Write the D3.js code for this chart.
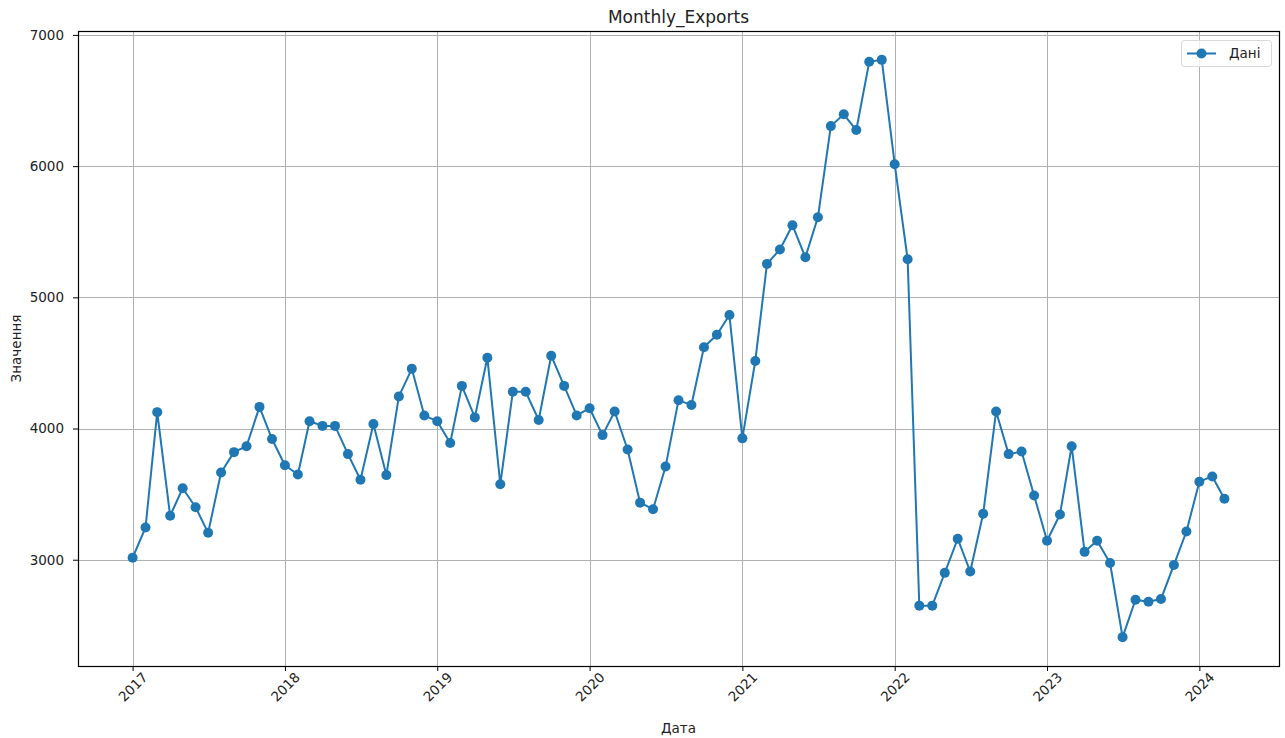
<!DOCTYPE html>
<html>
<head>
<meta charset="utf-8">
<script src="https://cdn.jsdelivr.net/npm/d3@7"></script>
<style>
  html, body { margin: 0; padding: 0; background: #fff; }
  svg { display: block; }
  svg text { font-family: "DejaVu Sans", sans-serif; }
</style>
</head>
<body>
<svg id="chart" width="1285" height="738"></svg>
<script>
// Monthly export values, January 2017 through March 2024
const startMonth = "2017-01";
const values = [
  3015, 3245, 4125, 3335, 3545, 3400, 3205, 3665, 3820, 3865, 4165, 3920,
  3720, 3650, 4055, 4020, 4020, 3805, 3610, 4035, 3645, 4245, 4455, 4100,
  4055, 3890, 4325, 4085, 4540, 3575, 4280, 4280, 4065, 4555, 4325, 4100,
  4155, 3950, 4130, 3840, 3435, 3385, 3710, 4215, 4180, 4620, 4715, 4865,
  3925, 4515, 5255, 5365, 5550, 5305, 5610, 6305, 6395, 6275, 6795, 6810,
  6015, 5290, 2650, 2650, 2900, 3160, 2910, 3350, 4130, 3805, 3825, 3490,
  3145, 3345, 3865, 3060, 3145, 2975, 2410, 2695, 2680, 2700, 2960, 3215,
  3595, 3635, 3465
];
const yTicks = [3000, 4000, 5000, 6000, 7000];
const xTickYears = [2017, 2018, 2019, 2020, 2021, 2022, 2023, 2024];
const title = "Monthly_Exports";
const xLabel = "Дата";
const yLabel = "Значення";
const seriesName = "Дані";

const parseMonth = d3.timeParse("%Y-%m");
const t0 = parseMonth(startMonth);
const data = values.map((v, i) => ({ date: d3.timeMonth.offset(t0, i), value: v }));

const color = "#1f77b4";
const font = "DejaVu Sans";
const tickFont = 13.5;
const plot = { left: 78, right: 1279, top: 31, bottom: 666 };

// 5% padding on both axes around the data extent
const [dMin, dMax] = d3.extent(data, d => d.date);
const dPad = (dMax - dMin) * 0.05;
const [vMin, vMax] = d3.extent(data, d => d.value);
const vPad = (vMax - vMin) * 0.05;

const x = d3.scaleTime()
  .domain([new Date(+dMin - dPad), new Date(+dMax + dPad)])
  .range([plot.left, plot.right]);
const y = d3.scaleLinear()
  .domain([vMin - vPad, vMax + vPad])
  .range([plot.bottom, plot.top]);

const svg = d3.select("#chart");
const xTickDates = xTickYears.map(yr => new Date(yr, 0, 1));

// grid
const grid = svg.append("g").attr("stroke", "#b0b0b0").attr("stroke-width", 1);
grid.selectAll("line.v").data(xTickDates).join("line")
  .attr("x1", d => Math.round(x(d)) + 0.5).attr("x2", d => Math.round(x(d)) + 0.5)
  .attr("y1", plot.top).attr("y2", plot.bottom);
grid.selectAll("line.h").data(yTicks).join("line")
  .attr("y1", d => Math.round(y(d)) + 0.5).attr("y2", d => Math.round(y(d)) + 0.5)
  .attr("x1", plot.left).attr("x2", plot.right);

// axes
const xAxis = svg.append("g")
  .attr("transform", `translate(0,${plot.bottom})`)
  .attr("font-family", font).attr("font-size", tickFont)
  .call(d3.axisBottom(x).tickValues(xTickDates).tickFormat(d3.timeFormat("%Y")).tickSize(5).tickPadding(4));
xAxis.select(".domain").remove();
xAxis.selectAll("line").attr("stroke", "#000").attr("stroke-width", 1);
// labels rotated 45° and centred under their ticks
xAxis.selectAll("text")
  .attr("font-family", font).attr("font-size", tickFont).attr("fill", "#222")
  .attr("text-anchor", "middle")
  .attr("dy", "0.35em")
  .attr("transform", "translate(0,21) rotate(-45)")
  .attr("x", 0).attr("y", 0);

const yAxis = svg.append("g")
  .attr("transform", `translate(${plot.left},0)`)
  .attr("font-family", font).attr("font-size", tickFont)
  .call(d3.axisLeft(y).tickValues(yTicks).tickFormat(d3.format("d")).tickSize(5).tickPadding(9));
yAxis.select(".domain").remove();
yAxis.selectAll("line").attr("stroke", "#000").attr("stroke-width", 1);
yAxis.selectAll("text").attr("font-family", font).attr("font-size", tickFont).attr("fill", "#222");

// frame
svg.append("rect")
  .attr("x", plot.left + 0.5).attr("y", plot.top + 0.5)
  .attr("width", plot.right - plot.left).attr("height", plot.bottom - plot.top)
  .attr("fill", "none").attr("stroke", "#000").attr("stroke-width", 1.2);

// series
const line = d3.line().x(d => x(d.date)).y(d => y(d.value));
svg.append("path").datum(data)
  .attr("d", line).attr("fill", "none")
  .attr("stroke", color).attr("stroke-width", 2).attr("stroke-linejoin", "round");
svg.append("g").selectAll("circle").data(data).join("circle")
  .attr("cx", d => x(d.date)).attr("cy", d => y(d.value))
  .attr("r", 5).attr("fill", color);

// title and axis labels
svg.append("text").attr("x", (plot.left + plot.right) / 2).attr("y", 23)
  .attr("text-anchor", "middle").attr("font-size", 17).attr("fill", "#222").text(title);
svg.append("text").attr("x", (plot.left + plot.right) / 2).attr("y", 733)
  .attr("text-anchor", "middle").attr("font-size", 13.5).attr("fill", "#222").text(xLabel);
svg.append("text")
  .attr("transform", `translate(21,${(plot.top + plot.bottom) / 2}) rotate(-90)`)
  .attr("text-anchor", "middle").attr("font-size", 13.5).attr("fill", "#222").text(yLabel);

// legend
const lg = svg.append("g").attr("transform", "translate(1181,40)");
lg.append("rect").attr("x", 0.5).attr("y", 0.5).attr("width", 90).attr("height", 26)
  .attr("rx", 3).attr("fill", "#fff").attr("fill-opacity", 0.8)
  .attr("stroke", "#d9d9d9").attr("stroke-width", 1);
lg.append("line").attr("x1", 6).attr("x2", 35).attr("y1", 13.5).attr("y2", 13.5)
  .attr("stroke", color).attr("stroke-width", 2);
lg.append("circle").attr("cx", 20.5).attr("cy", 13.5).attr("r", 5).attr("fill", color);
lg.append("text").attr("x", 48).attr("y", 18).attr("font-size", 13.5).attr("fill", "#222").text(seriesName);
</script>
</body>
</html>
